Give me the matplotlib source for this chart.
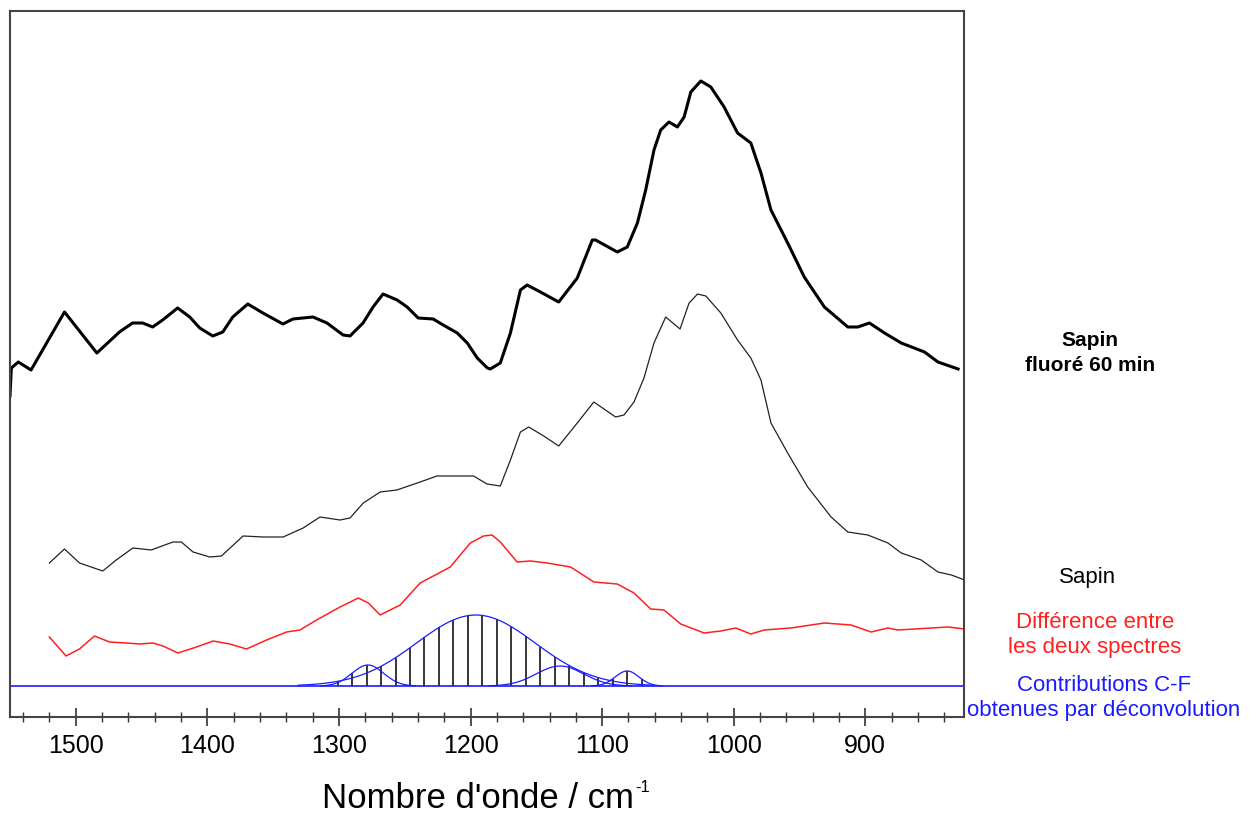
import numpy as np
import matplotlib.pyplot as plt
from matplotlib.ticker import MultipleLocator

plt.rcParams['font.family'] = ['Liberation Sans', 'DejaVu Sans']

# Sapin fluoré 60 min (thick black)
fluore_wn = [1550, 1549, 1543.7, 1534.0, 1508.6, 1484.0, 1466.8, 1456.9, 1449.2, 1441.6,
             1434.0, 1422.6, 1413.4, 1405.8, 1395.9, 1388.3, 1380.7, 1369.3, 1357.8, 1342.6,
             1335.0, 1319.8, 1309.1, 1296.9, 1291.6, 1281.7, 1274.1, 1266.5, 1255.8, 1248.2,
             1239.8, 1228.4, 1220.8, 1210.1, 1202.5, 1194.9, 1187.2, 1185.0, 1177.4, 1169.7,
             1162.1, 1157.0, 1146.9, 1133.0, 1118.9, 1107.5, 1105.0, 1088.5, 1080.9, 1073.2,
             1066.9, 1060.6, 1055.5, 1049.2, 1042.8, 1037.7, 1032.6, 1025.0, 1017.4, 1007.3,
             997.1, 987.0, 979.3, 971.7, 959.0, 946.4, 931.1, 913.3, 905.7, 896.9,
             885.4, 872.7, 855.0, 844.8, 829.5]
fluore_abs = [290, 318, 324, 316, 374, 333, 354, 363, 363, 359,
              366, 378, 369, 358, 350, 354, 369, 382, 373, 362,
              367, 369, 363, 351, 350, 363, 379, 392, 386, 379,
              368, 367, 361, 353, 343, 328, 318, 317, 323, 353,
              396, 401, 394, 384, 408, 446, 446, 434, 439, 463,
              496, 536, 556, 564, 559, 569, 594, 605, 599, 579,
              553, 543, 513, 476, 443, 409, 379, 359, 359, 363,
              353, 343, 334, 324, 317]

# Sapin (thin black)
sapin_wn = [1520.1, 1508.6, 1497.2, 1479.5, 1469.3, 1456.6, 1442.6, 1426.2, 1419.8, 1410.9,
            1398.2, 1389.3, 1372.9, 1357.6, 1342.4, 1327.2, 1314.4, 1299.2, 1291.6, 1281.5,
            1268.7, 1256.0, 1238.3, 1225.6, 1197.7, 1187.5, 1177.4, 1169.7, 1162.1, 1155.8,
            1144.4, 1133.0, 1118.9, 1106.3, 1089.8, 1083.4, 1075.8, 1068.2, 1060.6, 1051.7,
            1040.8, 1033.9, 1027.5, 1021.2, 1009.8, 997.1, 987.0, 979.3, 971.7, 959.0,
            943.8, 926.0, 913.3, 898.1, 882.8, 872.7, 857.5, 844.8, 834.6, 824.5]
sapin_abs = [123, 137, 123, 115, 126, 138, 136, 144, 144, 134,
             129, 130, 150, 149, 149, 158, 169, 166, 168, 183,
             194, 196, 204, 210, 210, 202, 200, 226, 254, 259,
             250, 240, 263, 284, 269, 271, 284, 308, 343, 369,
             357, 383, 392, 390, 373, 346, 328, 306, 263, 233,
             199, 169, 154, 151, 143, 133, 126, 114, 111, 106]

# Différence entre les deux spectres (red)
diff_wn = [1520.1, 1507.4, 1497.2, 1485.8, 1474.4, 1461.7, 1451.5, 1441.4, 1433.8, 1422.4,
           1408.3, 1395.7, 1383.0, 1370.3, 1355.0, 1339.8, 1329.7, 1317.0, 1299.2, 1285.3,
           1277.7, 1268.7, 1253.5, 1238.3, 1215.4, 1200.2, 1190.1, 1183.7, 1177.4, 1164.6,
           1154.5, 1141.8, 1124.0, 1106.3, 1088.5, 1075.8, 1063.1, 1053.0, 1040.3, 1022.5,
           1009.8, 998.4, 987.0, 976.8, 956.5, 931.1, 910.8, 895.6, 882.8, 875.2,
           862.6, 837.1, 824.5]
diff_abs = [49, 30, 37, 50, 44, 43, 42, 43, 40, 33,
            39, 45, 42, 37, 46, 54, 56, 66, 79, 88,
            83, 71, 81, 103, 119, 143, 150, 151, 144, 124,
            125, 123, 119, 104, 102, 93, 77, 76, 62, 53,
            55, 58, 52, 56, 58, 63, 61, 54, 58, 56,
            57, 59, 57]

# Contributions C-F (gaussian components from the deconvolution)
cf_center = [1278, 1196, 1132, 1081]
cf_height = [21, 71, 20, 15]
cf_sigma = [12, 45, 18, 9]


def gauss(x, c, h, s):
    return h * np.exp(-0.5 * ((x - c) / s) ** 2)


fig = plt.figure(figsize=(12.58, 8.17), dpi=100)
ax = fig.add_axes([10 / 1258, 1 - 717 / 817, 954 / 1258, 706 / 817])

ax.plot(fluore_wn, fluore_abs, color='black', lw=2.2, solid_joinstyle='round')
ax.plot(sapin_wn, sapin_abs, color='#222222', lw=0.9, solid_joinstyle='round')
ax.plot(diff_wn, diff_abs, color='#ff2020', lw=1.1, solid_joinstyle='round')

# hatch: vertical lines under the gaussian envelope
hatch_x = np.arange(1070, 1302, 11.0)
envelope = np.max([gauss(hatch_x, c, h, s) for c, h, s in zip(cf_center, cf_height, cf_sigma)], axis=0)
ax.vlines(hatch_x, 0, envelope, color='black', lw=1.1)

for c, h, s in zip(cf_center, cf_height, cf_sigma):
    xx = np.linspace(c - 3 * s, c + 3 * s, 200)
    ax.plot(xx, gauss(xx, c, h, s), color='#1a1aff', lw=0.9)

ax.axhline(0, color='#1a1aff', lw=1.2)

ax.set_xlim(1550, 825)
ax.set_ylim(-31, 675)
ax.set_yticks([])
ax.xaxis.set_major_locator(MultipleLocator(100))
ax.xaxis.set_minor_locator(MultipleLocator(20))
ax.tick_params(axis='x', which='major', direction='inout', length=13, width=1.2,
               labelsize=18, pad=6, color='#333333')
ax.tick_params(axis='x', which='minor', direction='inout', length=7, width=1.0, color='#333333')
for sp in ax.spines.values():
    sp.set_color('#444444')
    sp.set_linewidth(1.5)

# x axis title, with a small "-1" exponent as in the original
fig.text(322 / 1258, 1 - 808 / 817, "Nombre d'onde / cm", ha='left', va='baseline', fontsize=25)
fig.text(635 / 1258, 1 - 792 / 817, "-1", ha='left', va='baseline', fontsize=12)

fig.text(1090 / 1258, 1 - 353 / 817, "Sapin\nfluoré 60 min", ha='center', va='center',
         fontsize=15, fontweight='bold', linespacing=1.35)
fig.text(1088 / 1258, 1 - 577 / 817, "Sapin", ha='center', va='center', fontsize=16)
fig.text(1095 / 1258, 1 - 635 / 817, "Différence entre\nles deux spectres", ha='center',
         va='center', fontsize=16, color='#ff2020', linespacing=1.2)
fig.text(1104 / 1258, 1 - 698 / 817, "Contributions C-F\nobtenues par déconvolution",
         ha='center', va='center', fontsize=16, color='#1a1aff', linespacing=1.2)

fig.savefig('out.png', dpi=100)
